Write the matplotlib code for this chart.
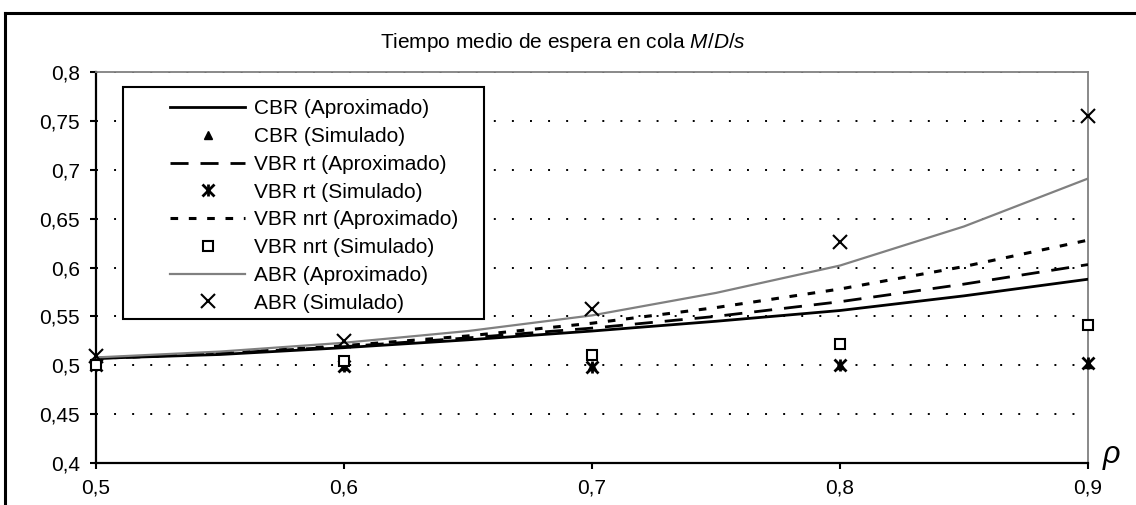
import matplotlib
matplotlib.use("Agg")
import matplotlib.pyplot as plt
from matplotlib.lines import Line2D
from matplotlib.patches import Rectangle

plt.rcParams['font.family'] = ['Liberation Sans', 'DejaVu Sans']
plt.rcParams['mathtext.fontset'] = 'custom'
plt.rcParams['mathtext.rm'] = 'Liberation Sans'
plt.rcParams['mathtext.it'] = 'Liberation Sans:italic'

# Data: approximated curves
rho_aprox = [0.5, 0.55, 0.6, 0.65, 0.7, 0.75, 0.8, 0.85, 0.9]
cbr_aprox = [0.507, 0.511, 0.518, 0.526, 0.535, 0.545, 0.556, 0.571, 0.588]
vbr_rt_aprox = [0.507, 0.512, 0.519, 0.528, 0.538, 0.550, 0.565, 0.583, 0.603]
vbr_nrt_aprox = [0.507, 0.512, 0.520, 0.530, 0.543, 0.559, 0.578, 0.601, 0.628]
abr_aprox = [0.508, 0.514, 0.523, 0.535, 0.551, 0.574, 0.602, 0.642, 0.691]

# Data: simulated points
rho_sim = [0.5, 0.6, 0.7, 0.8, 0.9]
cbr_sim = [0.500, 0.499, 0.499, 0.500, 0.501]
vbr_rt_sim = [0.500, 0.499, 0.498, 0.500, 0.502]
vbr_nrt_sim = [0.500, 0.504, 0.510, 0.522, 0.541]
abr_sim = [0.509, 0.5245, 0.558, 0.626, 0.755]

x_ticks = [0.5, 0.6, 0.7, 0.8, 0.9]
x_labels = ['0,5', '0,6', '0,7', '0,8', '0,9']
y_ticks = [0.4, 0.45, 0.5, 0.55, 0.6, 0.65, 0.7, 0.75, 0.8]
y_labels = ['0,4', '0,45', '0,5', '0,55', '0,6', '0,65', '0,7', '0,75', '0,8']

labels = ['CBR (Aproximado)', 'CBR (Simulado)', 'VBR rt (Aproximado)', 'VBR rt (Simulado)',
          'VBR nrt (Aproximado)', 'VBR nrt (Simulado)', 'ABR (Aproximado)', 'ABR (Simulado)']

W, H = 1136, 505
fig = plt.figure(figsize=(W / 100, H / 100), dpi=100)
ax = fig.add_axes([96 / W, 1 - 463 / H, (1088 - 96) / W, (463 - 72) / H])

# grid
for y in y_ticks[1:]:
    ax.axhline(y, color='black', lw=1.4, linestyle=(0, (1, 8.3)), zorder=1)

# curves
h1, = ax.plot(rho_aprox, cbr_aprox, color='black', lw=2, zorder=3)
h3, = ax.plot(rho_aprox, vbr_rt_aprox, color='black', lw=2, dashes=(6.5, 4.3), zorder=3)
h5, = ax.plot(rho_aprox, vbr_nrt_aprox, color='black', lw=2.2, dashes=(2.5, 3.5), zorder=3)
h7, = ax.plot(rho_aprox, abr_aprox, color='#808080', lw=1.6, zorder=3)

# simulated markers
h2, = ax.plot(rho_sim, cbr_sim, ls='none', marker='^', ms=6, color='black', clip_on=False, zorder=4)
h4a, = ax.plot(rho_sim, vbr_rt_sim, ls='none', marker='x', ms=8, mew=2, color='black', clip_on=False, zorder=4)
h4b, = ax.plot(rho_sim, vbr_rt_sim, ls='none', marker='|', ms=8, mew=2, color='black', clip_on=False, zorder=4)
h6, = ax.plot(rho_sim, vbr_nrt_sim, ls='none', marker='s', ms=7, mfc='white', mec='black', mew=1.5,
              clip_on=False, zorder=4)
h8, = ax.plot(rho_sim, abr_sim, ls='none', marker='x', ms=10, mew=1.5, color='black', clip_on=False, zorder=5)

ax.set_xlim(0.5, 0.9)
ax.set_ylim(0.4, 0.8)
ax.set_xticks(x_ticks)
ax.set_xticklabels(x_labels)
ax.set_yticks(y_ticks)
ax.set_yticklabels(y_labels)
ax.tick_params(direction='out', length=4.5, width=1.5, labelsize=15, pad=7)

ax.spines['left'].set_linewidth(1.6)
ax.spines['bottom'].set_linewidth(1.6)
ax.spines['top'].set_color('#808080')
ax.spines['right'].set_color('#808080')
ax.spines['top'].set_linewidth(1.3)
ax.spines['right'].set_linewidth(1.3)

# legend with a manual frame
fig.patches.append(Rectangle((123 / W, 1 - 319 / H), (484 - 123) / W, (319 - 87) / H,
                             transform=fig.transFigure, fill=False, ec='black', lw=1.5, zorder=6))
fig.patches.append(Rectangle((123 / W, 1 - 319 / H), (484 - 123) / W, (319 - 87) / H,
                             transform=fig.transFigure, fill=True, fc='white', ec='none', zorder=0.5))
leg = fig.legend([h1, h2, h3, (h4a, h4b), h5, h6, h7, h8], labels,
                 loc='upper left', bbox_to_anchor=(160 / W, 1 - 89 / H), frameon=False,
                 fontsize=15, borderpad=0, handlelength=3.6, handletextpad=0.4, labelspacing=0.42)

# title and axis label
fig.text(563 / W, 1 - 43 / H, r'Tiempo medio de espera en cola $\it{M/D/s}$', ha='center', va='center',
         fontsize=15)
fig.text(1112 / W, 1 - 455 / H, '\u03c1', ha='center', va='center', fontsize=22, style='italic')

# outer frame
fig.add_artist(Line2D([5 / W, 5 / W], [0, 1 - 13 / H], transform=fig.transFigure, color='black', lw=2.2))
fig.add_artist(Line2D([5 / W, 1], [1 - 13 / H, 1 - 13 / H], transform=fig.transFigure, color='black', lw=2.2))

fig.savefig('out.png', dpi=100)
